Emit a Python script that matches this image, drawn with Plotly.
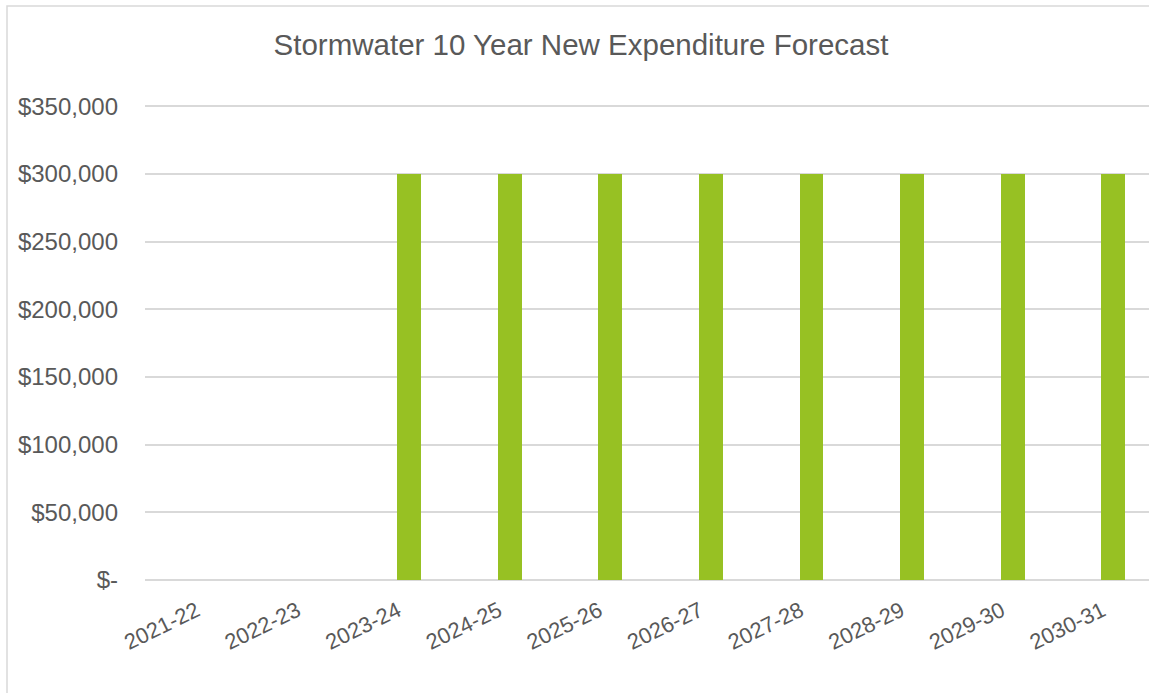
import plotly.graph_objects as go

categories = ["2021-22", "2022-23", "2023-24", "2024-25", "2025-26",
              "2026-27", "2027-28", "2028-29", "2029-30", "2030-31"]
values = [0, 0, 300000, 300000, 300000, 300000, 300000, 300000, 300000, 300000]
tick_vals = [0, 50000, 100000, 150000, 200000, 250000, 300000, 350000]
tick_text = ["$-", "$50,000", "$100,000", "$150,000", "$200,000",
             "$250,000", "$300,000", "$350,000"]

W, H = 1149, 693
L, R, T, B = 145, 0, 104, 111
plot_w = W - L - R
plot_h = H - T - B

fig = go.Figure(go.Bar(
    x=list(range(len(categories))), y=values,
    marker=dict(color="#97C123", line=dict(width=0)),
    width=0.238,
))

font = "Liberation Sans, Arial, sans-serif"
fig.update_layout(
    width=W, height=H,
    margin=dict(l=L, r=R, t=T, b=B, pad=0),
    paper_bgcolor="white", plot_bgcolor="white",
    showlegend=False,
    font=dict(family=font, color="#595959"),
    title=dict(text="Stormwater 10 Year New Expenditure Forecast",
               x=581 / W, xanchor="center", y=1 - 45 / H, yanchor="middle",
               font=dict(size=29.5, color="#595959", family=font)),
    xaxis=dict(
        tickmode="array", tickvals=list(range(len(categories))), ticktext=categories,
        range=[-0.623, 9.354], tickangle=-26, showgrid=False, zeroline=False,
        showline=False, ticks="", tickfont=dict(size=22, color="#595959"),
        ticklabelshift=-11, ticklabelstandoff=11,
    ),
    yaxis=dict(
        range=[-1600, 351600], tickmode="array", tickvals=tick_vals, ticktext=tick_text,
        showgrid=True, gridcolor="#D9D9D9", gridwidth=1.5, zeroline=False,
        showline=False, ticks="", ticklabelstandoff=26,
        tickfont=dict(size=24, color="#595959"),
    ),
    bargap=0,
)

# chart border (outer frame)
x0 = (7 - L) / plot_w
y1 = (H - B - 6) / plot_h
fig.add_shape(type="rect", xref="paper", yref="paper",
              x0=x0, x1=1.2, y0=-0.6, y1=y1,
              line=dict(color="#D9D9D9", width=1.5), fillcolor="rgba(0,0,0,0)",
              layer="below")

fig.write_html("out.html")
